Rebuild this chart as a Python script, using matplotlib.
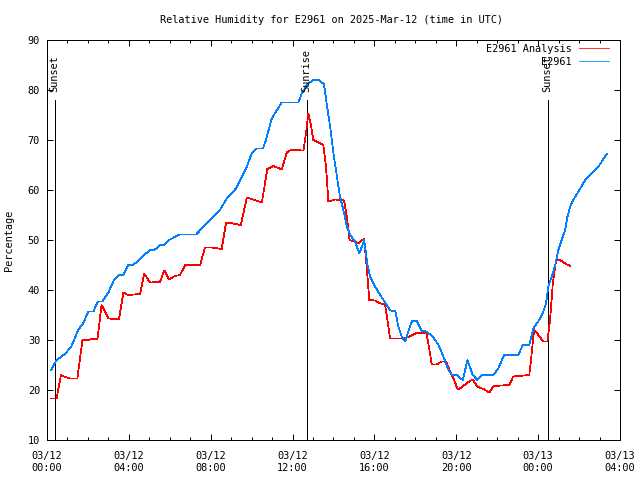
import matplotlib
matplotlib.use("Agg")
import matplotlib.pyplot as plt
import numpy as np

# minutes since 03/12 00:00 UTC
analysis_min = [12, 28, 41, 53, 67, 89, 104, 116, 136, 148, 160, 180, 211, 224, 237, 273, 285, 302,
                331, 344, 358, 375, 390, 405, 449, 463, 483, 512, 525, 537, 568, 586, 613, 630,
                646, 664, 688, 703, 715, 752, 760, 766, 773, 781, 791, 810, 818, 825, 845, 871,
                879, 887, 903, 913, 930, 938, 945, 962, 977, 991, 998, 1006, 1040, 1063, 1086,
                1113, 1123, 1128, 1143, 1157, 1170, 1182, 1194, 1204, 1216, 1229, 1248, 1262,
                1282, 1297, 1309, 1356, 1367, 1414, 1419, 1428, 1441, 1455, 1467, 1475, 1483,
                1490, 1493, 1504, 1519, 1534]
analysis_val = [18.3, 18.3, 23, 22.6, 22.3, 22.3, 30, 29.9, 30.3, 30.2, 37, 34.3, 34.2, 39.5, 39,
                39.2, 43.3, 41.5, 41.6, 43.9, 42.1, 42.8, 43, 45, 45, 48.5, 48.5, 48.2, 53.5, 53.4,
                53, 58.5, 57.9, 57.5, 64.2, 64.8, 64.1, 67.5, 68, 67.9, 71.7, 75.3, 73.3, 70, 69.7,
                69, 64.7, 57.7, 58.1, 57.9, 54.7, 50, 49.7, 49.3, 50.3, 44, 38, 37.9, 37.3, 37.2,
                34, 30.3, 30.3, 30.7, 31.5, 31.3, 27.3, 25.1, 25.1, 25.7, 25.7, 23.7, 22, 20.1,
                20.5, 21.3, 22.1, 20.7, 20.1, 19.5, 20.8, 21, 22.7, 23, 26, 32, 31, 29.7, 29.7,
                34, 41.3, 44.7, 46.1, 46, 45.3, 44.8]

obs_min = [12, 28, 53, 72, 92, 106, 121, 136, 149, 162, 180, 197, 211, 224, 238, 253, 268, 285,
           302, 315, 331, 344, 358, 388, 437, 507, 527, 554, 586, 600, 615, 633, 642, 659, 688,
           737, 747, 762, 781, 796, 812, 820, 830, 840, 850, 859, 869, 879, 889, 903, 916, 930,
           939, 947, 962, 977, 996, 1006, 1021, 1030, 1040, 1050, 1065, 1070, 1084, 1099, 1113,
           1133, 1148, 1162, 1177, 1187, 1201, 1219, 1233, 1248, 1262, 1275, 1309, 1323, 1340,
           1382, 1395, 1414, 1426, 1446, 1455, 1463, 1470, 1480, 1490, 1499, 1509, 1519, 1526,
           1534, 1543, 1558, 1578, 1597, 1617, 1641]
obs_val = [24, 26, 27.2, 28.8, 32.1, 33.3, 35.7, 35.7, 37.7, 37.7, 39.5, 42.1, 43, 43, 45, 45,
           45.9, 47, 48, 48, 49, 49, 50, 51.1, 51.1, 56, 58.3, 60.3, 64.7, 67.3, 68.3, 68.3, 70,
           74.3, 77.5, 77.5, 79.3, 81, 82.1, 82, 81.2, 77.3, 72.7, 67.3, 62.7, 58.7, 56, 52.7,
           51, 49.7, 47.3, 50, 45.3, 42.7, 40.7, 39, 37, 35.9, 35.8, 32.7, 30.7, 29.7, 32.8,
           33.8, 33.8, 31.8, 31.7, 30.5, 29, 26.7, 24, 23, 23, 22, 26, 23, 22, 23, 23, 24.3, 27,
           27, 29, 29, 32.3, 34.3, 35.7, 37.3, 40.7, 42.7, 45, 48, 50, 52, 54.7, 56.7, 58, 59.7,
           62, 63.3, 64.7, 67.2]

event_min = [22, 761, 1468]
event_labels = ["Sunset", "Sunrise", "Sunset"]

xtick_hours = [0, 4, 8, 12, 16, 20, 24, 28]
xtick_labels = ["03/12\n00:00", "03/12\n04:00", "03/12\n08:00", "03/12\n12:00",
                "03/12\n16:00", "03/12\n20:00", "03/13\n00:00", "03/13\n04:00"]

FONT = "DejaVu Sans Mono"
FS = 7.4
LW = 0.72
DLW = 0.55

fig = plt.figure(figsize=(6.4, 4.8), dpi=100)
ax = fig.add_axes([47/640, 40/480, 573/640, 400/480])

ax.plot(np.array(analysis_min)/60, analysis_val, color="#ff0000", lw=DLW,
        antialiased=False, label="E2961 Analysis", zorder=3)
ax.plot(np.array(obs_min)/60, obs_val, color="#0080ff", lw=DLW,
        antialiased=False, label="E2961", zorder=3)

for m, lab in zip(event_min, event_labels):
    h = m/60
    ax.plot([h, h], [10, 78], color="black", lw=LW, antialiased=False, zorder=2)
    ax.text(h, 79.6, lab, rotation=90, ha="center", va="bottom",
            fontsize=FS, family=FONT)

ax.set_xlim(0, 28)
ax.set_ylim(10, 90)
ax.set_xticks(xtick_hours)
ax.set_xticklabels(xtick_labels, fontsize=FS, family=FONT)
ax.set_xticks(np.arange(0, 29, 1), minor=True)
ax.set_yticks(np.arange(10, 91, 10))
for lbl in ax.get_yticklabels():
    lbl.set_fontsize(FS)
    lbl.set_family(FONT)
ax.tick_params(which="both", direction="in", top=True, right=True, width=LW, color="black")
ax.tick_params(which="major", length=4.5, pad=5)
ax.tick_params(which="minor", length=2.5)
ax.tick_params(axis="x", pad=8)
for sp in ax.spines.values():
    sp.set_linewidth(LW)

ax.set_ylabel("Percentage", fontsize=FS, family=FONT, labelpad=10)
fig.text(332/640, 1 - 20/480, "Relative Humidity for E2961 on 2025-Mar-12 (time in UTC)",
         ha="center", va="center", fontsize=FS, family=FONT)

leg = ax.legend(loc="upper right", bbox_to_anchor=(0.981, 0.99), frameon=False,
                markerfirst=False, borderaxespad=0, borderpad=0, handlelength=2.9,
                handletextpad=0.7, labelspacing=0.25, prop={"family": FONT, "size": FS})
for line in leg.get_lines():
    line.set_linewidth(DLW)

fig.savefig("out.png", dpi=100)
